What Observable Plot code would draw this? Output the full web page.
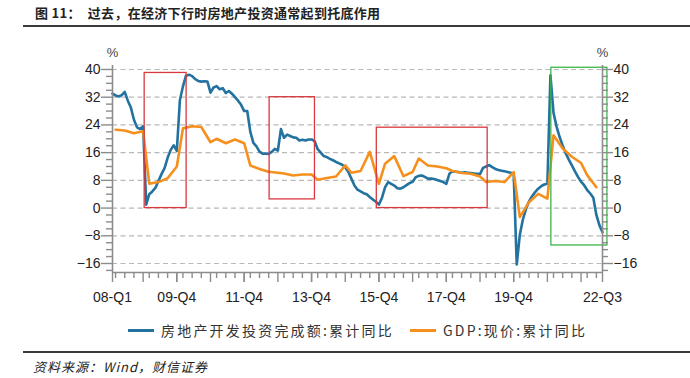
<!DOCTYPE html>
<html><head><meta charset="utf-8">
<script src="https://cdn.jsdelivr.net/npm/d3@7"></script>
<script src="https://cdn.jsdelivr.net/npm/@observablehq/plot@0.6"></script>
<style>
body{margin:0;background:#fff;}
#page{position:relative;width:690px;height:378px;overflow:hidden;font-family:"Noto Sans CJK SC",sans-serif;color:#222;}
#title{position:absolute;left:35px;top:5px;line-height:16px;font-size:13px;font-weight:bold;letter-spacing:0.3px;white-space:nowrap;}
#title .rest{margin-left:7px;}
.rule{position:absolute;left:23px;right:0;height:2px;background:#3a3a3a;}
#chart{position:absolute;left:0;top:30px;}
.leg{position:absolute;top:321px;height:18px;display:flex;align-items:center;font-size:14px;letter-spacing:2.2px;color:#333;white-space:nowrap;}
.sw{display:inline-block;width:26px;height:3px;margin-right:7px;}
#source{position:absolute;left:33px;top:359px;line-height:16px;font-size:13px;font-style:italic;letter-spacing:1px;color:#222;}
</style></head>
<body><div id="page">
<div id="title">图 11：<span class="rest"></span></div>
<div class="rule" style="top:25px"></div>
<div id="chart"></div>
<div class="leg" id="leg1" style="left:128px"><span class="sw" id="sw1"></span><span id="lt1"></span></div>
<div class="leg" id="leg2" style="left:410px"><span class="sw" id="sw2"></span><span id="lt2"></span></div>
<div class="rule" style="top:351px"></div>
<div id="source"></div>
</div>
<script>
// ---- texts ----
const titleText = "过去，在经济下行时房地产投资通常起到托底作用";
const seriesNames = ["房地产开发投资完成额:累计同比", "GDP:现价:累计同比"];
const sourceText = "资料来源：Wind，财信证券";

// ---- real estate investment, cumulative YoY (%), monthly from 2008-02 (Jan merged into Feb: 11 points per year) ----
const re2008 = [33.0, 32.5, 32.2, 32.6, 33.5, 31.0, 29.0, 25.5, 23.3, 22.8, 23.6];
const re2009 = [1.0, 4.0, 4.8, 5.8, 7.8, 9.8, 11.5, 14.5, 16.8, 18.1, 16.5];
const re2010 = [31.1, 35.1, 38.2, 38.5, 38.1, 37.2, 36.7, 36.5, 36.6, 36.5, 33.3];
const re2011 = [34.8, 35.2, 34.3, 34.6, 33.2, 33.8, 33.0, 32.0, 31.0, 29.8, 28.0];
const re2012 = [28.0, 22.0, 18.8, 17.8, 16.3, 15.7, 15.7, 15.6, 16.2, 17.1, 16.6];
const re2013 = [22.8, 20.3, 21.2, 20.8, 20.4, 20.3, 19.5, 19.7, 19.5, 19.8, 19.8];
const re2014 = [19.3, 17.0, 16.0, 15.0, 14.7, 14.2, 13.8, 13.3, 12.9, 12.5, 11.8];
const re2015 = [10.4, 8.5, 6.5, 5.3, 4.8, 4.3, 4.0, 3.2, 2.5, 1.8, 1.0];
const re2016 = [3.0, 6.0, 7.5, 7.0, 6.5, 5.7, 5.6, 6.0, 6.6, 7.2, 7.6];
const re2017 = [8.9, 9.3, 9.4, 9.0, 8.5, 8.5, 8.4, 8.1, 7.8, 7.5, 7.0];
const re2018 = [9.9, 10.6, 10.5, 10.4, 10.2, 10.3, 10.2, 10.1, 10.0, 9.9, 9.8];
const re2019 = [11.6, 12.0, 12.4, 11.8, 11.3, 11.0, 10.8, 10.6, 10.4, 10.2, 9.9];
const re2020 = [-16.3, -7.7, -3.3, -0.3, 1.9, 3.4, 4.6, 5.6, 6.3, 6.8, 7.0];
const re2021 = [38.3, 27.5, 23.5, 20.5, 18.0, 15.8, 14.0, 12.3, 10.6, 9.0, 7.6];
const re2022 = [6.6, 5.2, 4.2, 3.0, -2.0, -5.0, -7.0];

// ---- nominal GDP, cumulative YoY (%), quarterly from 2008Q1 ----
const gdpValues = [
  22.6, 22.4, 21.6, 22.2,
  7.0, 7.5, 8.6, 12.0,
  23.0, 23.6, 23.4, 19.0,
  20.0, 18.7, 19.8, 18.7,
  12.3, 11.3, 10.5, 10.2,
  10.0, 9.4, 9.7, 9.7,
  8.2, 8.7, 9.1, 12.3,
  10.2, 10.7, 16.2, 7.0,
  12.8, 15.0, 9.2, 10.4,
  14.3, 12.3, 12.0, 11.5,
  10.7, 10.1, 9.9, 9.1,
  7.5, 7.8, 7.5, 10.4,
  -2.6, 1.7, 4.1, 2.7,
  21.0, 17.2, 14.8, 13.0,
  9.5, 6.0
];

// ---- axis ticks ----
const yTicks = [-16, -8, 0, 8, 16, 24, 32, 40];
const xTickLabels = ["08-Q1", "09-Q4", "11-Q4", "13-Q4", "15-Q4", "17-Q4", "19-Q4", "22-Q3"];
const xTickMonths = ["2008-02", "2009-12", "2011-12", "2013-12", "2015-12", "2017-12", "2019-12", "2022-08"];

// ---- highlighted periods (month index / value ranges) ----
const redBoxes = [
  {from: 10.5, to: 24.2, lo: 0, hi: 39},
  {from: 51.3, to: 66.1, lo: 2.5, hi: 32},
  {from: 86.3, to: 122.5, lo: 0, hi: 23.2}
];
const greenBoxes = [{from: 143.3, to: 161.6, lo: -10.8, hi: 40.5}];

// ---- build ----
const reValues = [].concat(re2008, re2009, re2010, re2011, re2012, re2013, re2014, re2015, re2016, re2017, re2018, re2019, re2020, re2021, re2022);
const monthIndex = (y, m) => (y - 2008) * 11 + (m - 2); // Jan-Feb merged
const reData = reValues.map((v, i) => ({i, v}));
const gdpData = gdpValues.map((v, k) => ({i: monthIndex(2008 + Math.floor(k / 4), 3 * (k % 4 + 1)), v}));
const xTickIdx = xTickMonths.map(s => monthIndex(+s.slice(0, 4), +s.slice(5)));
const xMax = xTickIdx[xTickIdx.length - 1];
const yearEnds = d3.range(2008, 2022).map(y => monthIndex(y, 12));
const quarterTicks = d3.range(2008, 2023).flatMap(y => [3, 6, 9].map(m => monthIndex(y, m))).filter(i => i <= xMax);
const yDomain = [-18.6, 41.15];
const yMinor = d3.range(-18, 41, 2).filter(v => !yTicks.includes(v));

const blue = "#23729f", orange = "#f5901e", axisColor = "#8c8c8c";
const fmt = d => d < 0 ? "\u2212" + (-d) : String(d);

const chart = Plot.plot({
  width: 690, height: 278,
  marginLeft: 112, marginRight: 88, marginTop: 35, marginBottom: 36,
  x: {domain: [0, xMax]},
  y: {domain: yDomain},
  style: {fontFamily: "'Liberation Sans', Arial, sans-serif", fontSize: "14px", color: "#222", background: "transparent", overflow: "visible"},
  marks: [
    Plot.gridY(yTicks, {stroke: "#b8b8b8", strokeOpacity: 1, strokeWidth: 1.2, strokeDasharray: "5,3.5"}),
    Plot.line(reData, {x: "i", y: "v", stroke: blue, strokeWidth: 2.6, strokeLinejoin: "round"}),
    Plot.line(gdpData, {x: "i", y: "v", stroke: orange, strokeWidth: 2.6, strokeLinejoin: "round"}),
    Plot.rect(redBoxes, {x1: "from", x2: "to", y1: "lo", y2: "hi", fill: "none", stroke: "#d8383e", strokeWidth: 1.3}),
    Plot.rect(greenBoxes, {x1: "from", x2: "to", y1: "lo", y2: "hi", fill: "none", stroke: "#3cb54a", strokeWidth: 1.3}),
    Plot.ruleX([0, xMax], {stroke: axisColor, strokeWidth: 1.6}),
    Plot.ruleY([yDomain[0]], {stroke: axisColor, strokeWidth: 1.6}),
    Plot.axisY(yTicks, {anchor: "left", tickSize: 11, tickPadding: 1, stroke: axisColor, strokeWidth: 1.4, fill: "#222", tickFormat: fmt, label: null}),
    Plot.axisY(yMinor, {anchor: "left", tickSize: 6, stroke: axisColor, strokeWidth: 1.4, fill: "none", label: null}),
    Plot.axisY(yTicks, {anchor: "right", tickSize: 10, tickPadding: 1, stroke: axisColor, strokeWidth: 1.4, fill: "#222", tickFormat: fmt, label: null}),
    Plot.axisY(yMinor, {anchor: "right", tickSize: 5, stroke: axisColor, strokeWidth: 1.4, fill: "none", label: null}),
    Plot.axisX(xTickIdx, {anchor: "bottom", tickSize: 10, tickPadding: 10, stroke: axisColor, strokeWidth: 1.4, fill: "#222", tickFormat: i => xTickLabels[xTickIdx.indexOf(i)], label: null}),
    Plot.axisX(yearEnds, {anchor: "bottom", tickSize: 10, stroke: axisColor, strokeWidth: 1.4, fill: "none", label: null}),
    Plot.axisX(quarterTicks, {anchor: "bottom", tickSize: 6, stroke: axisColor, strokeWidth: 1.4, fill: "none", label: null}),
    Plot.text(["%"], {frameAnchor: "top-left", dy: -18, textAnchor: "middle", fontSize: 13, fill: "#444"}),
    Plot.text(["%"], {frameAnchor: "top-right", dy: -18, textAnchor: "middle", fontSize: 13, fill: "#444"})
  ]
});
document.getElementById("chart").appendChild(chart);

document.querySelector("#title .rest").textContent = titleText;
document.getElementById("lt1").textContent = seriesNames[0];
document.getElementById("lt2").textContent = seriesNames[1];
document.getElementById("sw1").style.background = blue;
document.getElementById("sw2").style.background = orange;
document.getElementById("source").textContent = sourceText;
</script>
</body></html>
